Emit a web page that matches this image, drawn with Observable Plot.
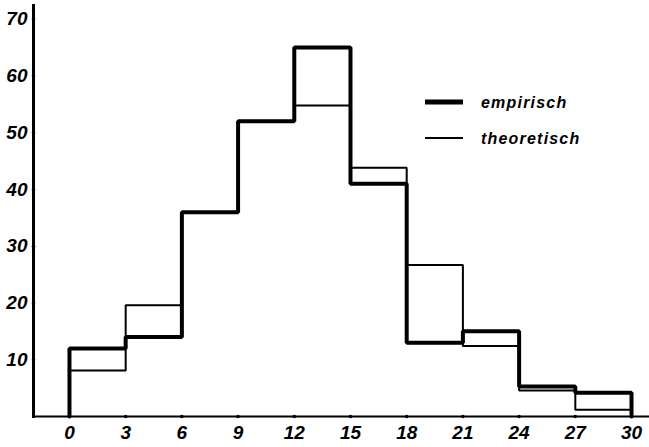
<!DOCTYPE html>
<html>
<head>
<meta charset="utf-8">
<script src="https://cdn.jsdelivr.net/npm/d3@7"></script>
<script src="https://cdn.jsdelivr.net/npm/@observablehq/plot@0.6"></script>
<style>
  html, body { margin: 0; padding: 0; background: #fff; }
  #chart { width: 649px; height: 447px; }
</style>
</head>
<body>
<div id="chart"></div>
<script>
// Class boundaries (lower edge of each class) and the class width
const classStarts = [0, 3, 6, 9, 12, 15, 18, 21, 24, 27];
const classWidth = 3;

// Frequencies per class
const empirisch   = [12, 14, 36, 52, 65, 41, 13, 15, 5.3, 4.2];
const theoretisch = [8.1, 19.6, 36, 52, 54.8, 43.8, 26.7, 12.4, 4.6, 1.2];

// Axis tick values
const xTicks = [0, 3, 6, 9, 12, 15, 18, 21, 24, 27, 30];
const yTicks = [10, 20, 30, 40, 50, 60, 70];

// Legend entries
const seriesNames = ["empirisch", "theoretisch"];

// Outline of a histogram as a step path: up from the baseline at the first
// class edge, across each class, and back down at the last class edge.
function outline(values) {
  const pts = [{x: classStarts[0], y: 0}];
  classStarts.forEach((x, i) => pts.push({x, y: values[i]}));
  pts.push({x: classStarts[classStarts.length - 1] + classWidth, y: 0});
  return pts;
}

const font = "'Liberation Sans', Arial, sans-serif";

const plot = Plot.plot({
  width: 649,
  height: 447,
  marginLeft: 33,
  marginRight: 0,
  marginTop: 5,
  marginBottom: 31,
  x: {domain: [-1.92, 30.96]},
  y: {domain: [0, 72.4]},
  style: {
    fontFamily: font,
    fontStyle: "italic",
    fontWeight: "bold",
    fontSize: "19px",
    color: "#000",
    background: "#fff"
  },
  marks: [
    Plot.frame({anchor: "left", stroke: "#000", strokeWidth: 3}),
    Plot.frame({anchor: "bottom", stroke: "#000", strokeWidth: 2}),
    Plot.axisX({ticks: xTicks, tickSize: 0, tickPadding: 9, fontSize: 19, label: null}),
    Plot.axisY({ticks: yTicks, tickSize: 0, tickPadding: 6, fontSize: 19, label: null}),
    Plot.dot(xTicks, {x: d => d, y: 0, r: 1.8, fill: "#000", stroke: null}),
    Plot.dot(yTicks, {y: d => d, frameAnchor: "left", r: 1.8, fill: "#000", stroke: null}),
    Plot.line(outline(theoretisch), {x: "x", y: "y", curve: "step-after", stroke: "#000", strokeWidth: 2, strokeLinejoin: "miter"}),
    Plot.line(outline(empirisch), {x: "x", y: "y", curve: "step-after", stroke: "#000", strokeWidth: 4, strokeLinejoin: "miter"})
  ]
});

document.getElementById("chart").appendChild(plot);

// Legend inside the plot area: a thick swatch for the empirical series,
// a thin one for the theoretical series.
const svg = d3.select(plot);
const legend = svg.append("g")
  .attr("transform", "translate(425,102)")
  .attr("text-anchor", "start");
const swatchWidths = [5, 2];
seriesNames.forEach((name, i) => {
  const g = legend.append("g").attr("transform", `translate(0,${i * 36})`);
  g.append("line")
    .attr("x1", 0).attr("x2", 38)
    .attr("y1", 0).attr("y2", 0)
    .attr("stroke", "#000")
    .attr("stroke-width", swatchWidths[i]);
  g.append("text")
    .attr("x", 56).attr("y", 0)
    .attr("dy", "0.35em")
    .attr("text-anchor", "start")
    .attr("font-family", font)
    .attr("font-style", "italic")
    .attr("font-weight", "bold")
    .attr("font-size", 16)
    .attr("letter-spacing", 1.2)
    .attr("fill", "#000")
    .text(name);
});
</script>
</body>
</html>
